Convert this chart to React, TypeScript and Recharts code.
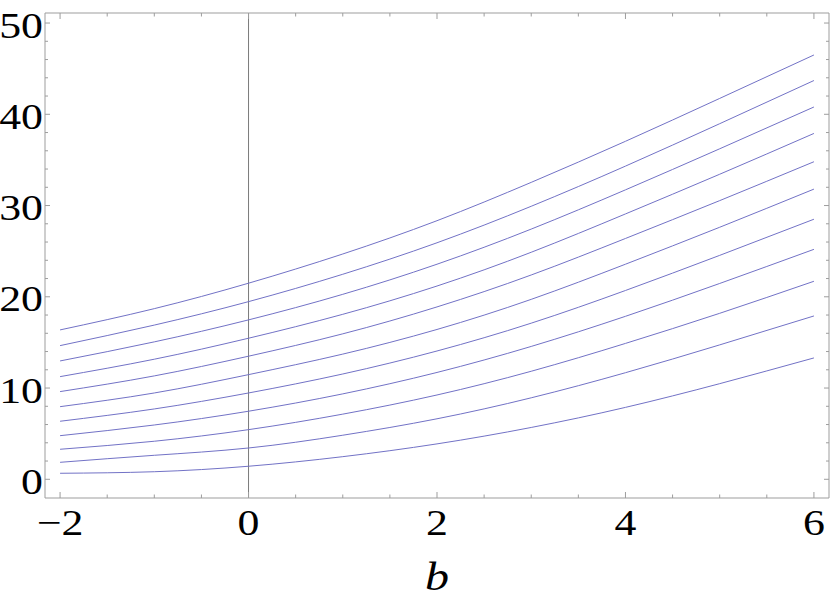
import React from 'react';
import { LineChart, Line, XAxis, YAxis, ReferenceLine } from 'recharts';

const bValues = [-2, -1, 0, 1, 2, 3, 4, 5, 6];
const level0 = [0.66, 0.83, 1.43, 2.48, 3.88, 5.68, 7.88, 10.48, 13.3];
const level1 = [1.86, 2.63, 3.43, 4.83, 6.63, 8.93, 11.68, 14.73, 17.9];
const level2 = [3.29, 4.17, 5.44, 7.14, 9.24, 11.84, 14.89, 18.19, 21.7];
const level3 = [4.78, 5.95, 7.46, 9.36, 11.71, 14.56, 17.86, 21.46, 25.2];
const level4 = [6.36, 7.71, 9.46, 11.54, 14.06, 17.11, 20.69, 24.54, 28.5];
const level5 = [7.96, 9.46, 11.47, 13.72, 16.42, 19.72, 23.57, 27.62, 31.8];
const level6 = [9.61, 11.33, 13.49, 15.94, 18.89, 22.39, 26.39, 30.54, 34.8];
const level7 = [11.25, 13.16, 15.46, 18.08, 21.18, 24.88, 29.08, 33.43, 37.9];
const level8 = [12.97, 15.06, 17.47, 20.27, 23.57, 27.42, 31.72, 36.22, 40.8];
const level9 = [14.65, 16.9, 19.47, 22.47, 25.92, 29.92, 34.32, 38.97, 43.7];
const level10 = [16.37, 18.7, 21.49, 24.69, 28.34, 32.54, 37.04, 41.74, 46.5];

const levels = [level0, level1, level2, level3, level4, level5, level6, level7, level8, level9, level10];

const xMajorTicks = [-2, 0, 2, 4, 6];
const xAllTicks = [-2, -1.5, -1, -0.5, 0, 0.5, 1, 1.5, 2, 2.5, 3, 3.5, 4, 4.5, 5, 5.5, 6];
const yMajorTicks = [0, 10, 20, 30, 40, 50];
const yAllTicks = [0, 2, 4, 6, 8, 10, 12, 14, 16, 18, 20, 22, 24, 26, 28, 30, 32, 34, 36, 38, 40, 42, 44, 46, 48, 50];

const data = bValues.map((b, i) => {
  const row: Record<string, number> = { b };
  levels.forEach((arr, k) => {
    row['n' + k] = arr[i];
  });
  return row;
});

const FONT = '"Times New Roman", "Liberation Serif", serif';
const FRAME = '#9d9d9d';
const LINE = '#7272c6';
const SX = 1.2;

const fmt = (v: number) => (v < 0 ? '\u2212' + Math.abs(v) : String(v));

const BottomTick = (props: any) => {
  const { x, y, payload } = props;
  const v = payload.value;
  const major = xMajorTicks.includes(v);
  return (
    <g>
      <line x1={x} x2={x} y1={y} y2={y - (major ? 6 : 3.5)} stroke={FRAME} strokeWidth={1} />
      {major && (
        <text
          transform={`translate(${x},${y + 37}) scale(${SX},1)`}
          x={0}
          y={0}
          textAnchor="middle"
          fontFamily={FONT}
          fontSize={36.5}
          fill="#000"
        >
          {fmt(v)}
        </text>
      )}
    </g>
  );
};

const TopTick = (props: any) => {
  const { x, y, payload } = props;
  const major = xMajorTicks.includes(payload.value);
  return <line x1={x} x2={x} y1={y} y2={y + (major ? 6 : 3.5)} stroke={FRAME} strokeWidth={1} />;
};

const LeftTick = (props: any) => {
  const { x, y, payload } = props;
  const v = payload.value;
  const major = yMajorTicks.includes(v);
  return (
    <g>
      <line x1={x} x2={x + (major ? 5 : 3)} y1={y} y2={y} stroke={FRAME} strokeWidth={1} />
      {major && (
        <text
          transform={`translate(${x - 2},${y + 14.5}) scale(${SX},1)`}
          x={0}
          y={0}
          textAnchor="end"
          fontFamily={FONT}
          fontSize={36.5}
          fill="#000"
        >
          {fmt(v)}
        </text>
      )}
    </g>
  );
};

const RightTick = (props: any) => {
  const { x, y, payload } = props;
  const major = yMajorTicks.includes(payload.value);
  return <line x1={x} x2={x - (major ? 5 : 3)} y1={y} y2={y} stroke={FRAME} strokeWidth={1} />;
};

const BLabel = (props: any) => {
  const vb = props.viewBox || { x: 45, y: 498, width: 784, height: 104 };
  return (
    <text
      transform={`translate(${vb.x + vb.width / 2},${vb.y + 92}) scale(${SX},1)`}
      x={0}
      y={0}
      textAnchor="middle"
      fontFamily={FONT}
      fontStyle="italic"
      fontSize={40}
      fill="#000"
    >
      b
    </text>
  );
};

export default function App() {
  return (
    <div style={{ position: 'absolute', left: 0, top: 0, width: 830, height: 602, background: '#fff' }}>
      <LineChart width={830} height={602} data={data} margin={{ top: 12, right: 0, left: 0, bottom: 0 }}>
        <XAxis
          xAxisId="bottom"
          dataKey="b"
          type="number"
          domain={[-2.16, 6.16]}
          allowDataOverflow
          ticks={xAllTicks}
          interval={0}
          tickSize={0}
          tickMargin={0}
          tickLine={false}
          axisLine={{ stroke: FRAME }}
          tick={<BottomTick />}
          height={104}
          orientation="bottom"
          label={<BLabel />}
        />
        <XAxis
          xAxisId="top"
          dataKey="b"
          type="number"
          domain={[-2.16, 6.16]}
          allowDataOverflow
          ticks={xAllTicks}
          interval={0}
          tickSize={0}
          tickMargin={0}
          tickLine={false}
          axisLine={{ stroke: FRAME }}
          tick={<TopTick />}
          height={1}
          orientation="top"
        />
        <YAxis
          yAxisId="left"
          type="number"
          domain={[-2.05, 51.1]}
          allowDataOverflow
          ticks={yAllTicks}
          interval={0}
          tickSize={0}
          tickMargin={0}
          tickLine={false}
          axisLine={{ stroke: FRAME }}
          tick={<LeftTick />}
          width={45}
          orientation="left"
        />
        <YAxis
          yAxisId="right"
          type="number"
          domain={[-2.05, 51.1]}
          allowDataOverflow
          ticks={yAllTicks}
          interval={0}
          tickSize={0}
          tickMargin={0}
          tickLine={false}
          axisLine={{ stroke: FRAME }}
          tick={<RightTick />}
          width={1}
          orientation="right"
        />
        <ReferenceLine xAxisId="bottom" yAxisId="left" x={0} stroke="#7a7a7a" strokeWidth={1} />
        {levels.map((_, k) => (
          <Line
            key={k}
            xAxisId="bottom"
            yAxisId="left"
            dataKey={'n' + k}
            type="natural"
            stroke={LINE}
            strokeWidth={1}
            dot={false}
            isAnimationActive={false}
          />
        ))}
        <Line
          xAxisId="top"
          yAxisId="right"
          dataKey="n0"
          stroke="none"
          dot={false}
          legendType="none"
          isAnimationActive={false}
        />
      </LineChart>
    </div>
  );
}
